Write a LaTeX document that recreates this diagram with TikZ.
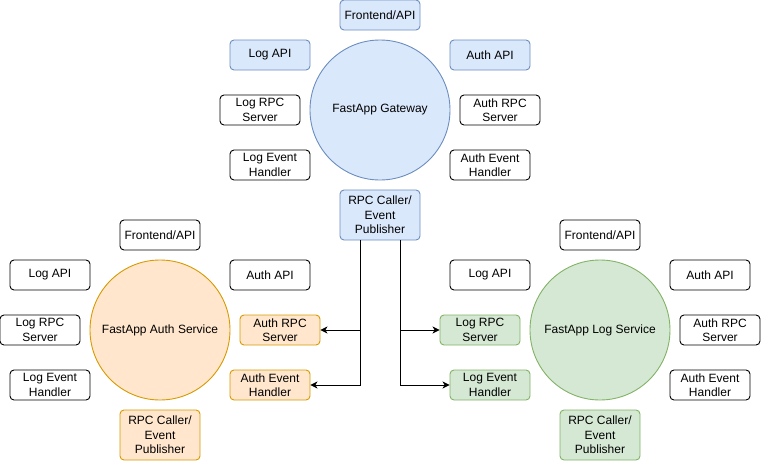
\documentclass[tikz,border=0pt]{standalone}
\usepackage{fontspec}
\setmainfont{Liberation Sans}
\usetikzlibrary{arrows.meta}
\definecolor{bluefill}{HTML}{DAE8FC}
\definecolor{bluedraw}{HTML}{6C8EBF}
\definecolor{orfill}{HTML}{FFE6CC}
\definecolor{ordraw}{HTML}{D79B00}
\definecolor{grfill}{HTML}{D5E8D4}
\definecolor{grdraw}{HTML}{82B366}
\tikzset{
  box/.style={draw=black, fill=white, rectangle, rounded corners=4pt, minimum width=80pt, minimum height=30pt, inner sep=0pt, align=center, line width=0.9pt, font=\fontsize{12}{14.5}\selectfont},
  tallbox/.style={box, minimum height=50pt},
  svc/.style={circle, minimum size=140pt, inner sep=0pt, line width=0.9pt, align=center, font=\fontsize{12}{14.5}\selectfont},
  bluest/.style={draw=bluedraw, fill=bluefill},
  orst/.style={draw=ordraw, fill=orfill},
  grst/.style={draw=grdraw, fill=grfill},
  conn/.style={draw=black, line width=0.9pt, -{Stealth[length=7pt,width=7pt,inset=2pt]}},
}
\begin{document}
\begin{tikzpicture}[x=1pt,y=-1pt]
\useasboundingbox (0,0) rectangle (761,461);
% Gateway
\node[svc, bluest] (gw) at (380,110) {FastApp Gateway};
\node[box, bluest] (gwfront) at (380,15) {Frontend/API};
\node[box, bluest] (gwlogapi) at (270,55) {Log API};
\node[box, bluest] (gwauthapi) at (490,55) {Auth API};
\node[box] (gwlogrpc) at (260,110) {Log RPC\\Server};
\node[box] (gwauthrpc) at (500,110) {Auth RPC\\Server};
\node[box] (gwlogev) at (270,165) {Log Event\\Handler};
\node[box] (gwauthev) at (490,165) {Auth Event\\Handler};
\node[tallbox, bluest] (gwrpc) at (380,215) {RPC Caller/\\Event\\Publisher};
% Auth service
\node[svc, orst] (as) at (160,330) {FastApp Auth Service};
\node[box] (asfront) at (160,235) {Frontend/API};
\node[box] (aslogapi) at (50,275) {Log API};
\node[box] (asauthapi) at (270,275) {Auth API};
\node[box] (aslogrpc) at (40,330) {Log RPC\\Server};
\node[box, orst] (asauthrpc) at (280,330) {Auth RPC\\Server};
\node[box] (aslogev) at (50,385) {Log Event\\Handler};
\node[box, orst] (asauthev) at (270,385) {Auth Event\\Handler};
\node[tallbox, orst] (asrpc) at (160,435) {RPC Caller/\\Event\\Publisher};
% Log service
\node[svc, grst] (ls) at (600,330) {FastApp Log Service};
\node[box] (lsfront) at (600,235) {Frontend/API};
\node[box] (lslogapi) at (490,275) {Log API};
\node[box] (lsauthapi) at (710,275) {Auth API};
\node[box, grst] (lslogrpc) at (480,330) {Log RPC\\Server};
\node[box] (lsauthrpc) at (720,330) {Auth RPC\\Server};
\node[box, grst] (lslogev) at (490,385) {Log Event\\Handler};
\node[box] (lsauthev) at (710,385) {Auth Event\\Handler};
\node[tallbox, grst] (lsrpc) at (600,435) {RPC Caller/\\Event\\Publisher};
% Connectors
\draw[conn] ([xshift=-20pt]gwrpc.south) |- (asauthrpc.east);
\draw[conn] ([xshift=-20pt]gwrpc.south) |- (asauthev.east);
\draw[conn] ([xshift=20pt]gwrpc.south) |- (lslogrpc.west);
\draw[conn] ([xshift=20pt]gwrpc.south) |- (lslogev.west);
\end{tikzpicture}
\end{document}
